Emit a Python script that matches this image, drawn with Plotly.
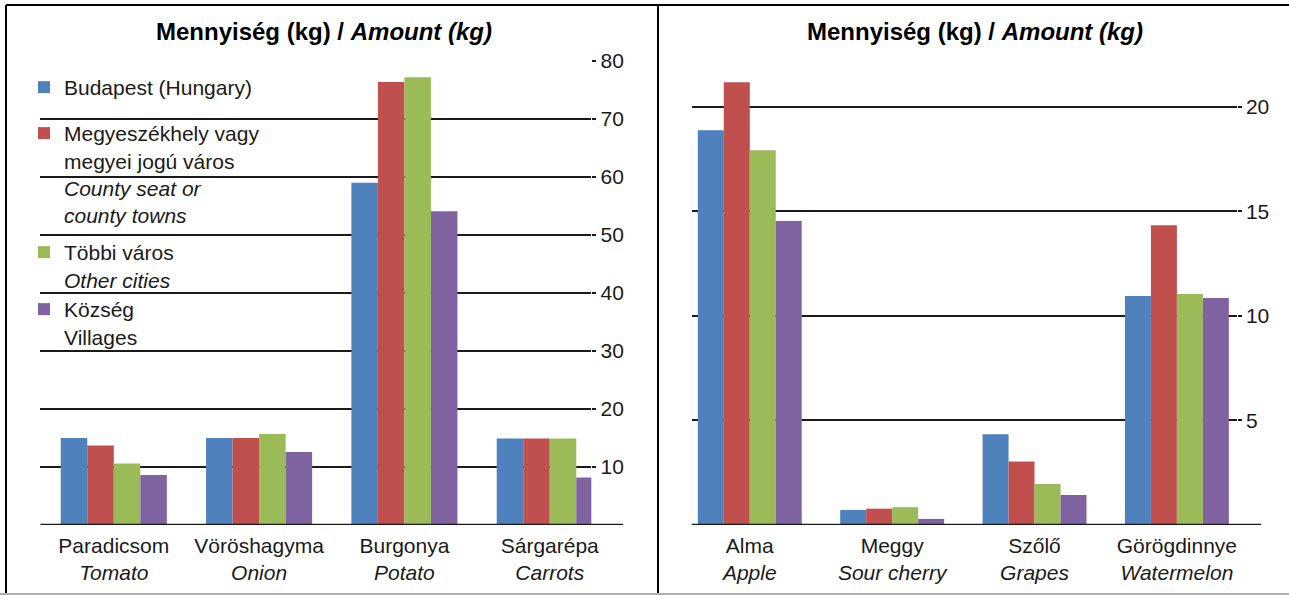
import plotly.graph_objects as go

# ---- data ----
veg_hu = ["Paradicsom", "Vöröshagyma", "Burgonya", "Sárgarépa"]
veg_en = ["Tomato", "Onion", "Potato", "Carrots"]
fruit_hu = ["Alma", "Meggy", "Szőlő", "Görögdinnye"]
fruit_en = ["Apple", "Sour cherry", "Grapes", "Watermelon"]

series_names = [
    "Budapest (Hungary)",
    "Megyeszékhely vagy<br>megyei jogú város<br><i>County seat or</i><br><i>county towns</i>",
    "Többi város<br><i>Other cities</i>",
    "Község<br>Villages",
]
series_colors = ["#4F81BD", "#C0504D", "#9BBB59", "#8064A2"]

veg_values = [
    [15.0, 15.0, 59.0, 14.9],   # Budapest
    [13.7, 15.0, 76.4, 14.9],   # County seats
    [10.6, 15.7, 77.2, 14.9],   # Other cities
    [8.6, 12.6, 54.1, 8.2],     # Villages
]
fruit_values = [
    [18.87, 0.72, 4.34, 10.95],
    [21.16, 0.78, 3.03, 14.33],
    [17.91, 0.85, 1.96, 11.04],
    [14.53, 0.29, 1.44, 10.85],
]

veg_ticks = [10, 20, 30, 40, 50, 60, 70, 80]
fruit_ticks = [5, 10, 15, 20]

title_text = "<b>Mennyiség (kg) / <i>Amount (kg)</i></b>"

W, H = 1289, 595
FONT = "Liberation Sans, Arial, Helvetica, sans-serif"
INK = "#1a1a1a"

veg_labels = [f"{h}<br><i>{e}</i>" for h, e in zip(veg_hu, veg_en)]
fruit_labels = [f"{h}<br><i>{e}</i>" for h, e in zip(fruit_hu, fruit_en)]

legend_ids = ["legend", "legend2", "legend3", "legend4"]
legend_tops = [67, 113, 232, 289]   # pixel top of each legend entry

fig = go.Figure()

for i, (name, color) in enumerate(zip(series_names, series_colors)):
    fig.add_trace(go.Bar(
        x=veg_labels, y=veg_values[i], name=name,
        marker=dict(color=color, line=dict(width=0)),
        xaxis="x", yaxis="y", offsetgroup=str(i),
        legendgroup=f"g{i}", legend=legend_ids[i], showlegend=True, cliponaxis=False,
    ))
for i, (name, color) in enumerate(zip(series_names, series_colors)):
    fig.add_trace(go.Bar(
        x=fruit_labels, y=fruit_values[i], name=name,
        marker=dict(color=color, line=dict(width=0)),
        xaxis="x2", yaxis="y2", offsetgroup=str(i),
        legendgroup=f"g{i}", legend=legend_ids[i], showlegend=False, cliponaxis=False,
    ))

ydom = [(H - 525) / H, (H - 61) / H]
xdom1 = [40.4 / W, 591.3 / W]
xdom2 = [691.7 / W, 1236.7 / W]

common_x = dict(
    type="category", showgrid=False, zeroline=False, showline=False, automargin=False,
    ticks="", tickfont=dict(family=FONT, size=21, color=INK),
    ticklabelstandoff=6,
)
common_y = dict(
    side="right", showgrid=True, gridcolor=INK, gridwidth=2, automargin=False,
    zeroline=False, showline=False, ticks="outside", ticklen=4,
    tickwidth=2, tickcolor=INK, tickfont=dict(family=FONT, size=21, color=INK),
    tickmode="array",
)

legend_style = dict(
    xanchor="left", yanchor="top",
    bgcolor="rgba(0,0,0,0)", borderwidth=0,
    font=dict(family=FONT, size=21, color=INK),
    valign="top",
)

layout_legends = {
    lid: dict(x=24 / W, y=(H - top) / H, **legend_style)
    for lid, top in zip(legend_ids, legend_tops)
}

fig.update_layout(
    template="none",
    width=W, height=H, autosize=False,
    margin=dict(l=0, r=0, t=0, b=0, pad=0, autoexpand=False),
    paper_bgcolor="white", plot_bgcolor="rgba(0,0,0,0)",
    barmode="group", bargap=0.27, bargroupgap=0,
    font=dict(family=FONT, color=INK),
    xaxis=dict(domain=xdom1, anchor="y", range=[-0.505, 3.286], **common_x),
    yaxis=dict(domain=ydom, anchor="x", range=[0, 80], tickvals=veg_ticks, **common_y),
    xaxis2=dict(domain=xdom2, anchor="y2", range=[-0.408, 3.42], **common_x),
    yaxis2=dict(domain=ydom, anchor="x2", range=[0, 22.18], tickvals=fruit_ticks, **common_y),
    showlegend=True,
    **layout_legends,
)

# titles
for xc in (323.5 / W, 974.5 / W):
    fig.add_annotation(
        x=xc, y=(H - 31) / H, xref="paper", yref="paper",
        text=title_text, showarrow=False, xanchor="center", yanchor="middle",
        font=dict(family=FONT, size=24, color="black"),
    )

# baselines (extend beyond the gridlines, under the tick labels)
fig.add_shape(type="line", xref="x domain", yref="y", x0=0, x1=1.0576, y0=0, y1=0,
              line=dict(color=INK, width=2.5), layer="above")
fig.add_shape(type="line", xref="x2 domain", yref="y2", x0=0, x1=1.045, y0=0, y1=0,
              line=dict(color=INK, width=2.5), layer="above")

# frame
fig.add_shape(type="line", xref="paper", yref="paper", x0=6 / W, x1=1, y0=(H - 5) / H, y1=(H - 5) / H,
              line=dict(color="black", width=2))
fig.add_shape(type="line", xref="paper", yref="paper", x0=6 / W, x1=6 / W, y0=1 / H, y1=(H - 5) / H,
              line=dict(color="black", width=2))
fig.add_shape(type="line", xref="paper", yref="paper", x0=658 / W, x1=658 / W, y0=1 / H, y1=(H - 5) / H,
              line=dict(color="black", width=2))
fig.add_shape(type="line", xref="paper", yref="paper", x0=0, x1=1, y0=1 / H, y1=1 / H,
              line=dict(color="#b0b0b0", width=2))

fig.write_html(
    "out.html",
    config={"responsive": False, "displayModeBar": False},
    post_script=(
        "document.body.style.margin='0';document.body.style.overflow='hidden';"
        "var gd=document.getElementById('{plot_id}');"
        "gd.style.position='fixed';gd.style.top='0px';gd.style.left='0px';"
    ),
)
